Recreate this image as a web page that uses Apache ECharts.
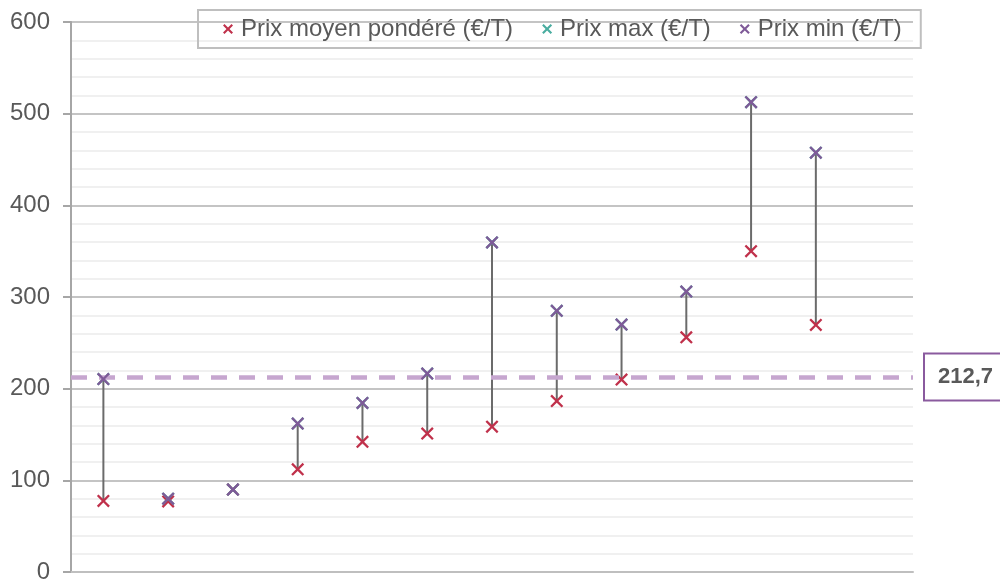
<!DOCTYPE html>
<html>
<head>
<meta charset="utf-8">
<script src="https://cdn.jsdelivr.net/npm/echarts@6/dist/echarts.min.js"></script>
<style>html,body{margin:0;padding:0;background:#fff}#c{width:1000px;height:579px}</style>
</head>
<body>
<div id="c"></div>
<script>
const categories = ['1','2','3','4','5','6','7','8','9','10','11','12','13'];
const prixMoyen = [77.5, 77, 90, 112, 142, 151, 158.5, 186.5, 210, 256, 350, 269.5, null];
const prixMax   = [210.5, 80, 90, 162, 184.5, 216.5, 359.5, 285, 270, 306, 512.5, 457.5, null];
const prixMin   = [210.5, 80, 90, 162, 184.5, 216.5, 359.5, 285, 270, 306, 512.5, 457.5, null];
const moyenneGlobale = 212.7;
const moyenneLabel = '212,7';
const seriesNames = ['Prix moyen pondéré (€/T)', 'Prix max (€/T)', 'Prix min (€/T)'];

const FONT = '"Liberation Sans", Arial, sans-serif';
const X = 'path://M0,1.5L1.5,0L6,4.5L10.5,0L12,1.5L7.5,6L12,10.5L10.5,12L6,7.5L1.5,12L0,10.5L4.5,6Z';
const XL = 'path://M0,1.8L1.8,0L6,4.2L10.2,0L12,1.8L7.8,6L12,10.2L10.2,12L6,7.8L1.8,12L0,10.2L4.2,6Z';
const colors = ['#c0314b', '#4aada0', '#7f5a98'];

const hiLo = categories.map((c, i) => {
  const v = [prixMoyen[i], prixMax[i], prixMin[i]].filter(x => x != null);
  if (!v.length) return [i, null, null];
  return [i, Math.min(...v), Math.max(...v)];
});

const chart = echarts.init(document.getElementById('c'), null, {renderer: 'canvas'});
chart.setOption({
  animation: false,
  textStyle: {fontFamily: FONT},
  grid: {left: 71, right: 87, top: 22, bottom: 7, containLabel: false, outerBoundsMode: 'none'},
  legend: {
    data: seriesNames.map((n, k) => ({name: n, icon: XL, itemStyle: {color: colors[k]}})),
    left: 198, top: 10,
    padding: [7, 19, 7, 25],
    borderColor: '#bfbfbf', borderWidth: 2,
    itemGap: 29, itemWidth: 10, itemHeight: 10,
    textStyle: {fontSize: 24, color: '#595959', fontFamily: FONT, padding: [0, 0, 0, 3]}
  },
  xAxis: {
    type: 'category', data: categories,
    axisLine: {show: true, lineStyle: {color: '#bfbfbf', width: 2}},
    axisTick: {show: false}, axisLabel: {show: false}, splitLine: {show: false}
  },
  yAxis: {
    type: 'value', min: 0, max: 600, interval: 100,
    axisLine: {show: true, lineStyle: {color: '#a6a6a6', width: 2}},
    axisTick: {show: true, length: 8, lineStyle: {color: '#a6a6a6', width: 2}},
    axisLabel: {fontSize: 24, color: '#595959', margin: 21, fontFamily: FONT},
    splitLine: {show: true, lineStyle: {color: '#c4c4c4', width: 2}},
    minorTick: {show: false, splitNumber: 5},
    minorSplitLine: {show: true, lineStyle: {color: '#f0f0f0', width: 2}}
  },
  series: [
    {
      type: 'custom', name: 'hilo', silent: true, z: 1,
      data: hiLo,
      renderItem: function (params, api) {
        const lo = api.value(1), hi = api.value(2);
        if (lo == null || isNaN(lo)) return;
        const p1 = api.coord([api.value(0), lo]);
        const p2 = api.coord([api.value(0), hi]);
        return {type: 'line', shape: {x1: p1[0], y1: p1[1], x2: p2[0], y2: p2[1]},
                style: {stroke: '#6b6b6b', lineWidth: 2}};
      }
    },
    {
      type: 'scatter', name: seriesNames[0], data: prixMoyen, symbol: X, symbolSize: 13, z: 3,
      itemStyle: {color: colors[0], opacity: 1},
      markLine: {
        silent: true, symbol: ['none', 'none'],
        data: [{yAxis: moyenneGlobale}],
        lineStyle: {color: '#c6a6cf', width: 4.5, type: [16, 12]},
        label: {
          show: true, position: 'end', distance: 12, formatter: moyenneLabel,
          fontSize: 22, fontWeight: 'bold', color: '#595959', fontFamily: FONT,
          backgroundColor: '#fff', borderColor: '#8a5a9e', borderWidth: 2,
          padding: [12, 14, 11, 13]
        }
      }
    },
    {
      type: 'scatter', name: seriesNames[1], data: prixMax, symbol: X, symbolSize: 13, z: 4,
      itemStyle: {color: colors[1], opacity: 1}
    },
    {
      type: 'scatter', name: seriesNames[2], data: prixMin, symbol: X, symbolSize: 13, z: 5,
      itemStyle: {color: colors[2], opacity: 1}
    }
  ]
});
</script>
</body>
</html>
